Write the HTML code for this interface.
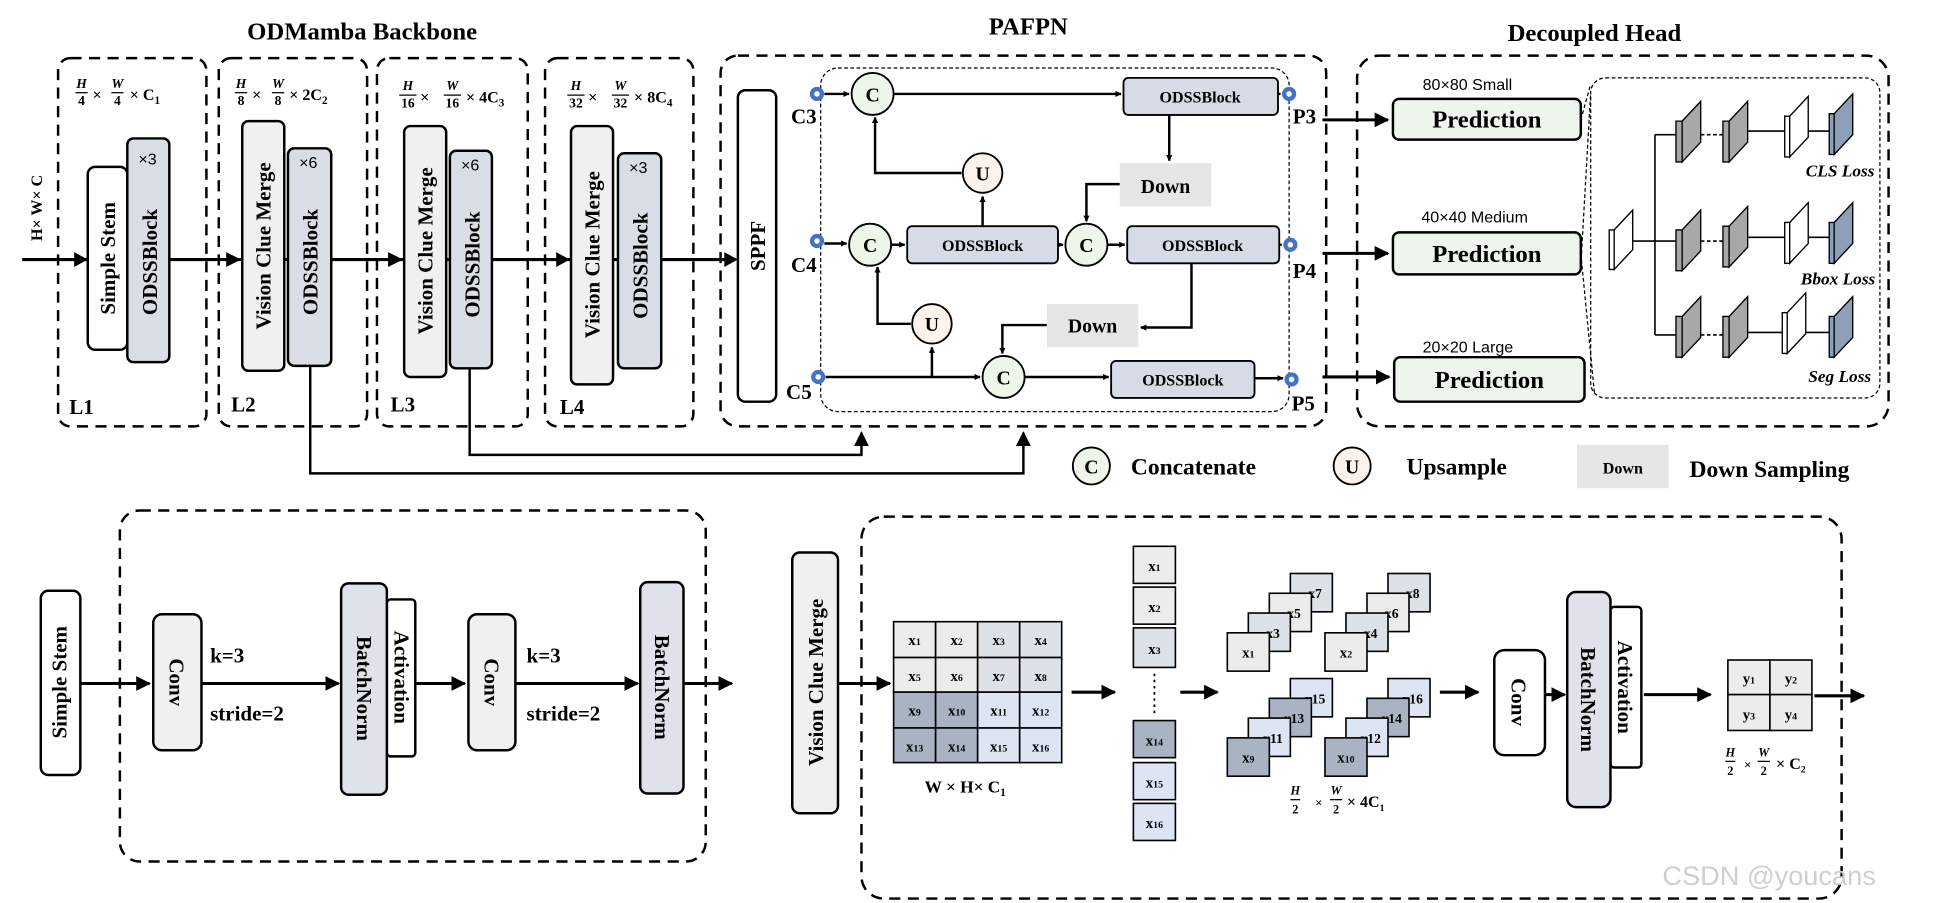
<!DOCTYPE html>
<html><head><meta charset="utf-8"><style>
html,body{margin:0;padding:0;background:#fff;}
svg{display:block;}
text{font-family:"Liberation Serif",serif;font-weight:bold;fill:#000;}
.s{font-family:"Liberation Sans",sans-serif;font-weight:normal;}
</style></head><body>
<svg width="1938" height="903" viewBox="0 0 1568 730.6" preserveAspectRatio="none" xmlns="http://www.w3.org/2000/svg">
<defs>
<marker id="a" viewBox="0 0 10 10" refX="9" refY="5" markerWidth="5" markerHeight="5" orient="auto-start-reverse" markerUnits="userSpaceOnUse"><path d="M0,0L10,5L0,10z"/></marker>
<marker id="A" viewBox="0 0 10 10" refX="9" refY="5" markerWidth="12" markerHeight="12" orient="auto" markerUnits="userSpaceOnUse"><path d="M0,0L10,5L0,10z"/></marker>
</defs>
<g fill="none" stroke="#000" stroke-width="2" stroke-dasharray="9,6">
<rect x="47" y="47" width="120" height="298" rx="10"/>
<rect x="177" y="47" width="120" height="298" rx="10"/>
<rect x="305" y="47" width="122" height="298" rx="10"/>
<rect x="441" y="47" width="120" height="298" rx="10"/>
<rect x="583" y="45" width="490" height="300" rx="14"/>
<rect x="1098" y="45" width="430" height="300" rx="18"/>
<rect x="97" y="413" width="474" height="284" rx="16"/>
<rect x="697" y="418" width="793" height="309" rx="18"/>
</g>
<g fill="none" stroke="#000" stroke-width="1" stroke-dasharray="3,2">
<rect x="664" y="55" width="379" height="278" rx="14"/>
<rect x="1287" y="63" width="234" height="259" rx="12"/>
<path d="M1279,97 L1287,68 M1279,215 L1287,75 M1279,205 L1290,318"/>
</g>
<text x="293" y="32" font-size="20" text-anchor="middle">ODMamba Backbone</text>
<text x="832" y="28" font-size="20" text-anchor="middle">PAFPN</text>
<text x="1290" y="33" font-size="20" text-anchor="middle">Decoupled Head</text>
<line x1="18" y1="210" x2="590" y2="210" stroke="#000" stroke-width="2.5"/>
<g fill="#000"><path d="M60,204L71,210L60,216z"/><path d="M183,204L195,210L183,216z"/><path d="M314,204L326,210L314,216z"/><path d="M450,204L461,210L450,216z"/><path d="M586,204L597,210L586,216z"/></g>
<text transform="translate(34,195) rotate(-90)" font-size="13">H× W× C</text>
<g stroke="#000" stroke-width="2">
<rect x="71" y="135" width="32" height="148" rx="6" fill="#fff"/>
<rect x="103" y="112" width="34" height="181" rx="5" fill="#d9dde6"/>
<rect x="196" y="98" width="34" height="202" rx="5" fill="#f0f0f0"/>
<rect x="233" y="120" width="35" height="176" rx="5" fill="#d9dde6"/>
<rect x="327" y="102" width="34" height="203" rx="5" fill="#f0f0f0"/>
<rect x="364" y="122" width="34" height="176" rx="5" fill="#d9dde6"/>
<rect x="462" y="102" width="34" height="209" rx="5" fill="#f0f0f0"/>
<rect x="500" y="124" width="35" height="174" rx="5" fill="#d9dde6"/>
<rect x="597" y="73" width="31" height="252" rx="6" fill="#fff"/>
</g>
<g font-size="17">
<text transform="translate(93,209) rotate(-90)" text-anchor="middle">Simple Stem</text>
<text transform="translate(127,212) rotate(-90)" text-anchor="middle">ODSSBlock</text>
<text transform="translate(219,199) rotate(-90)" text-anchor="middle">Vision Clue Merge</text>
<text transform="translate(257,212) rotate(-90)" text-anchor="middle">ODSSBlock</text>
<text transform="translate(350,203) rotate(-90)" text-anchor="middle">Vision Clue Merge</text>
<text transform="translate(388,214) rotate(-90)" text-anchor="middle">ODSSBlock</text>
<text transform="translate(485,206) rotate(-90)" text-anchor="middle">Vision Clue Merge</text>
<text transform="translate(524,215) rotate(-90)" text-anchor="middle">ODSSBlock</text>
<text transform="translate(619,199) rotate(-90)" text-anchor="middle">SPPF</text>
</g>
<g class="s" font-size="13"><text class="s" x="112" y="133">×3</text><text class="s" x="242" y="136">×6</text><text class="s" x="373" y="138">×6</text><text class="s" x="509" y="140">×3</text></g>
<g font-size="17"><text x="56" y="335">L1</text><text x="187" y="333">L2</text><text x="316" y="333">L3</text><text x="453" y="335">L4</text></g>
<g font-size="11" text-anchor="middle" font-style="italic">
<text x="66" y="71">H</text><text x="66" y="85" font-style="normal">4</text><line x1="61" y1="75" x2="71" y2="75" stroke="#000"/>
<text x="95" y="71">W</text><text x="95" y="85" font-style="normal">4</text><line x1="90" y1="75" x2="100" y2="75" stroke="#000"/>
<text x="195" y="71">H</text><text x="195" y="85" font-style="normal">8</text><line x1="190" y1="75" x2="200" y2="75" stroke="#000"/>
<text x="225" y="71">W</text><text x="225" y="85" font-style="normal">8</text><line x1="220" y1="75" x2="230" y2="75" stroke="#000"/>
<text x="330" y="73">H</text><text x="330" y="87" font-style="normal">16</text><line x1="323" y1="77" x2="337" y2="77" stroke="#000"/>
<text x="366" y="73">W</text><text x="366" y="87" font-style="normal">16</text><line x1="359" y1="77" x2="373" y2="77" stroke="#000"/>
<text x="466" y="73">H</text><text x="466" y="87" font-style="normal">32</text><line x1="459" y1="77" x2="473" y2="77" stroke="#000"/>
<text x="502" y="73">W</text><text x="502" y="87" font-style="normal">32</text><line x1="495" y1="77" x2="509" y2="77" stroke="#000"/>
</g>
<g font-size="13"><text x="75" y="81">×</text><text x="105" y="81">× C<tspan font-size="9" dy="3">1</tspan></text>
<text x="204" y="81">×</text><text x="234" y="81">× 2C<tspan font-size="9" dy="3">2</tspan></text>
<text x="340" y="83">×</text><text x="377" y="83">× 4C<tspan font-size="9" dy="3">3</tspan></text>
<text x="476" y="83">×</text><text x="513" y="83">× 8C<tspan font-size="9" dy="3">4</tspan></text></g>
<g fill="none" stroke="#000" stroke-width="2">
<path d="M251,296 V383 H828 V350" marker-end="url(#A)"/>
<path d="M380,298 V368 H697 V350" marker-end="url(#A)"/>
</g>
<g fill="none" stroke="#000" stroke-width="2">
<path d="M667,76 H687" marker-end="url(#a)"/>
<path d="M723,76 H907" marker-end="url(#a)"/>
<path d="M1034,76 H1036" marker-end="url(#a)"/>
<path d="M667,197 H685" marker-end="url(#a)"/>
<path d="M721,198 H732" marker-end="url(#a)"/>
<path d="M856,198 H860" marker-end="url(#a)"/>
<path d="M896,198 H910" marker-end="url(#a)"/>
<path d="M1035,198 H1037" marker-end="url(#a)"/>
<path d="M668,305 H793" marker-end="url(#a)"/>
<path d="M829,305 H897" marker-end="url(#a)"/>
<path d="M1015,306 H1038" marker-end="url(#a)"/>
<path d="M795,183 V159" marker-end="url(#a)"/>
<path d="M778,140 H708 V95" marker-end="url(#a)"/>
<path d="M754,305 V281" marker-end="url(#a)"/>
<path d="M737,262 H710 V216" marker-end="url(#a)"/>
<path d="M946,93 V130" marker-end="url(#a)"/>
<path d="M906,149 H879 V179" marker-end="url(#a)"/>
<path d="M964,213 V265 H923" marker-end="url(#a)"/>
<path d="M847,263 H811 V286" marker-end="url(#a)"/>
<path d="M1070,97 H1123" marker-end="url(#A)" stroke-width="2.5"/>
<path d="M1070,205 H1123" marker-end="url(#A)" stroke-width="2.5"/>
<path d="M1070,305 H1124" marker-end="url(#A)" stroke-width="2.5"/>
</g>
<g stroke="#000" stroke-width="1.5">
<rect x="909" y="63" width="125" height="30" rx="4" fill="#d6dbe5"/>
<rect x="734" y="183" width="122" height="30" rx="4" fill="#d6dbe5"/>
<rect x="912" y="183" width="123" height="30" rx="4" fill="#d6dbe5"/>
<rect x="899" y="292" width="116" height="30" rx="4" fill="#d6dbe5"/>
<circle cx="706" cy="76" r="17" fill="#eef6ea"/><circle cx="704" cy="198" r="17" fill="#eef6ea"/>
<circle cx="879" cy="198" r="17" fill="#eef6ea"/><circle cx="812" cy="305" r="17" fill="#eef6ea"/>
<circle cx="795" cy="140" r="16" fill="#fdf3ec"/><circle cx="754" cy="262" r="16" fill="#fdf3ec"/>
<circle cx="883" cy="377" r="15" fill="#eef6ea"/><circle cx="1094" cy="377" r="15" fill="#fdf3ec"/>
</g>
<g fill="#e6e6e6"><rect x="906" y="132" width="74" height="35"/><rect x="847" y="246" width="74" height="35"/><rect x="1276" y="360" width="74" height="35"/></g>
<g font-size="13" text-anchor="middle"><text x="971" y="83">ODSSBlock</text><text x="795" y="203">ODSSBlock</text><text x="973" y="203">ODSSBlock</text><text x="957" y="312">ODSSBlock</text></g>
<g font-size="16" text-anchor="middle"><text x="943" y="156">Down</text><text x="884" y="269">Down</text>
<text x="706" y="82">C</text><text x="704" y="204">C</text><text x="879" y="204">C</text><text x="812" y="311">C</text>
<text x="795" y="146">U</text><text x="754" y="268">U</text><text x="883" y="383">C</text><text x="1094" y="383">U</text></g>
<text x="1313" y="383" font-size="13" text-anchor="middle">Down</text>
<g font-size="19"><text x="915" y="384">Concatenate</text><text x="1138" y="384">Upsample</text><text x="1367" y="386">Down Sampling</text></g>
<g fill="#fff" stroke="#4472c4" stroke-width="3.5">
<circle cx="661" cy="76" r="4"/><circle cx="661" cy="195" r="4"/><circle cx="662" cy="305" r="4"/>
<circle cx="1043" cy="76" r="4"/><circle cx="1044" cy="198" r="4"/><circle cx="1045" cy="307" r="4"/></g>
<g font-size="17"><text x="640" y="100">C3</text><text x="640" y="220">C4</text><text x="636" y="323">C5</text>
<text x="1046" y="100">P3</text><text x="1046" y="225">P4</text><text x="1045" y="332">P5</text></g>
<g stroke="#000" stroke-width="2" fill="#eef5ec">
<rect x="1127" y="80" width="152" height="33" rx="5"/><rect x="1127" y="188" width="152" height="34" rx="5"/><rect x="1128" y="289" width="154" height="36" rx="5"/></g>
<g font-size="20" text-anchor="middle"><text x="1203" y="103">Prediction</text><text x="1203" y="212">Prediction</text><text x="1205" y="314">Prediction</text></g>
<g class="s" font-size="13"><text class="s" x="1151" y="73">80×80   Small</text><text class="s" x="1150" y="180">40×40  Medium</text><text class="s" x="1151" y="285">20×20   Large</text></g>
<g fill="none" stroke="#000" stroke-width="1.3">
<path d="M1316,195 H1339 M1339,109 V271 M1339,109 H1356 M1339,195 H1356 M1339,271 H1356"/>
<path d="M1376,109 H1394 M1376,195 H1394 M1376,271 H1394" stroke-dasharray="3,2"/>
<path d="M1414,106 H1444 M1414,192 H1444 M1414,269 H1442 M1458,106 H1480 M1458,192 H1480 M1456,269 H1480"/>
</g>
<g stroke="#000" stroke-width="1.1">
<path d="M1302,186 h4 v32 h-4z M1306,186 l15,-16 v32 l-15,16z" fill="#fff"/>
<g fill="#a8a8a8">
<path d="M1356,98 h5 v33 h-5z M1361,98 l15,-16 v33 l-15,16z"/><path d="M1394,98 h5 v33 h-5z M1399,98 l15,-16 v33 l-15,16z"/>
<path d="M1356,186 h5 v33 h-5z M1361,186 l15,-16 v33 l-15,16z"/><path d="M1394,183 h5 v33 h-5z M1399,183 l15,-16 v33 l-15,16z"/>
<path d="M1356,256 h5 v33 h-5z M1361,256 l15,-16 v33 l-15,16z"/><path d="M1394,256 h5 v33 h-5z M1399,256 l15,-16 v33 l-15,16z"/>
</g>
<g fill="#fff"><path d="M1444,94 h4 v33 h-4z M1448,94 l15,-16 v33 l-15,16z"/><path d="M1444,180 h4 v33 h-4z M1448,180 l15,-16 v33 l-15,16z"/><path d="M1442,253 h4 v33 h-4z M1446,253 l15,-16 v33 l-15,16z"/></g>
<g fill="#8e9fba"><path d="M1480,92 h4 v33 h-4z M1484,92 l15,-16 v33 l-15,16z"/><path d="M1480,180 h4 v33 h-4z M1484,180 l15,-16 v33 l-15,16z"/><path d="M1480,256 h4 v33 h-4z M1484,256 l15,-16 v33 l-15,16z"/></g>
</g>
<g font-size="14" font-style="italic"><text x="1461" y="143">CLS Loss</text><text x="1457" y="230">Bbox Loss</text><text x="1463" y="309">Seg Loss</text></g>
<g stroke="#000" stroke-width="2">
<rect x="33" y="478" width="32" height="149" rx="6" fill="#fff"/>
<rect x="124" y="497" width="39" height="110" rx="7" fill="#f0f0f0"/>
<rect x="313" y="485" width="23" height="127" rx="3" fill="#fff"/>
<rect x="276" y="472" width="37" height="171" rx="6" fill="#dfe2ea"/>
<rect x="379" y="497" width="38" height="110" rx="7" fill="#f0f0f0"/>
<rect x="518" y="471" width="35" height="171" rx="6" fill="#dfe2ea"/>
<rect x="641" y="447" width="37" height="211" rx="6" fill="#f0f0f0"/>
</g>
<g fill="none" stroke="#000" stroke-width="2.5">
<path d="M65,553 H121" marker-end="url(#A)"/><path d="M163,553 H274" marker-end="url(#A)"/>
<path d="M336,553 H376" marker-end="url(#A)"/><path d="M417,553 H516" marker-end="url(#A)"/>
<path d="M553,553 H592" marker-end="url(#A)"/><path d="M678,553 H720" marker-end="url(#A)"/>
<path d="M867,560 H902" marker-end="url(#A)"/><path d="M955,560 H985" marker-end="url(#A)"/>
<path d="M1165,560 H1196" marker-end="url(#A)"/><path d="M1250,562 H1266" marker-end="url(#A)"/>
<path d="M1330,562 H1384" marker-end="url(#A)"/><path d="M1468,563 H1508" marker-end="url(#A)"/>
</g>
<g font-size="17">
<text transform="translate(54,552) rotate(-90)" text-anchor="middle">Simple Stem</text>
<text transform="translate(137,552) rotate(90)" text-anchor="middle">Conv</text>
<text transform="translate(289,557) rotate(90)" text-anchor="middle">BatchNorm</text>
<text transform="translate(319,548) rotate(90)" text-anchor="middle">Activation</text>
<text transform="translate(392,552) rotate(90)" text-anchor="middle">Conv</text>
<text transform="translate(530,556) rotate(90)" text-anchor="middle">BatchNorm</text>
<text transform="translate(666,552) rotate(-90)" text-anchor="middle">Vision Clue Merge</text>
<text x="170" y="536">k=3</text><text x="170" y="583">stride=2</text>
<text x="426" y="536">k=3</text><text x="426" y="583">stride=2</text>
</g>
<g stroke="#000" stroke-width="1.3" font-size="13">
<rect x="723" y="503" width="34" height="29" fill="#ececec"/><rect x="757" y="503" width="34" height="29" fill="#ececec"/><rect x="791" y="503" width="34" height="29" fill="#dde1e8"/><rect x="825" y="503" width="34" height="29" fill="#dde1e8"/>
<rect x="723" y="532" width="34" height="28" fill="#ececec"/><rect x="757" y="532" width="34" height="28" fill="#ececec"/><rect x="791" y="532" width="34" height="28" fill="#dde1e8"/><rect x="825" y="532" width="34" height="28" fill="#dde1e8"/>
<rect x="723" y="560" width="34" height="29" fill="#aab3c4"/><rect x="757" y="560" width="34" height="29" fill="#aab3c4"/><rect x="791" y="560" width="34" height="29" fill="#dde5f3"/><rect x="825" y="560" width="34" height="29" fill="#dde5f3"/>
<rect x="723" y="589" width="34" height="28" fill="#aab3c4"/><rect x="757" y="589" width="34" height="28" fill="#aab3c4"/><rect x="791" y="589" width="34" height="28" fill="#dde5f3"/><rect x="825" y="589" width="34" height="28" fill="#dde5f3"/>
<rect x="917" y="442" width="34" height="30" fill="#ececec"/><rect x="917" y="475" width="34" height="30" fill="#ececec"/><rect x="917" y="508" width="34" height="32" fill="#dde1e8"/>
<rect x="917" y="583" width="34" height="30" fill="#aab3c4"/><rect x="917" y="617" width="34" height="30" fill="#dde5f3"/><rect x="917" y="650" width="34" height="30" fill="#dde5f3"/>
<rect x="1398" y="534" width="34" height="28" fill="#ececec"/><rect x="1432" y="534" width="34" height="28" fill="#ececec"/><rect x="1398" y="562" width="34" height="29" fill="#ececec"/><rect x="1432" y="562" width="34" height="29" fill="#ececec"/>
</g>
<line x1="934" y1="545" x2="934" y2="580" stroke="#000" stroke-width="1.5" stroke-dasharray="2,3"/>
<g font-size="12" text-anchor="middle">
<text x="740" y="522">x<tspan font-size="8">1</tspan></text><text x="774" y="522">x<tspan font-size="8">2</tspan></text><text x="808" y="522">x<tspan font-size="8">3</tspan></text><text x="842" y="522">x<tspan font-size="8">4</tspan></text>
<text x="740" y="551">x<tspan font-size="8">5</tspan></text><text x="774" y="551">x<tspan font-size="8">6</tspan></text><text x="808" y="551">x<tspan font-size="8">7</tspan></text><text x="842" y="551">x<tspan font-size="8">8</tspan></text>
<text x="740" y="579">x<tspan font-size="8">9</tspan></text><text x="774" y="579">x<tspan font-size="8">10</tspan></text><text x="808" y="579">x<tspan font-size="8">11</tspan></text><text x="842" y="579">x<tspan font-size="8">12</tspan></text>
<text x="740" y="608">x<tspan font-size="8">13</tspan></text><text x="774" y="608">x<tspan font-size="8">14</tspan></text><text x="808" y="608">x<tspan font-size="8">15</tspan></text><text x="842" y="608">x<tspan font-size="8">16</tspan></text>
<text x="934" y="462">x<tspan font-size="8">1</tspan></text><text x="934" y="495">x<tspan font-size="8">2</tspan></text><text x="934" y="529">x<tspan font-size="8">3</tspan></text>
<text x="934" y="603">x<tspan font-size="8">14</tspan></text><text x="934" y="637">x<tspan font-size="8">15</tspan></text><text x="934" y="670">x<tspan font-size="8">16</tspan></text>
<text x="1415" y="553">y<tspan font-size="8">1</tspan></text><text x="1449" y="553">y<tspan font-size="8">2</tspan></text><text x="1415" y="582">y<tspan font-size="8">3</tspan></text><text x="1449" y="582">y<tspan font-size="8">4</tspan></text>
</g>
<g stroke="#000" stroke-width="1.3" font-size="11" text-anchor="middle">
<rect x="1044" y="464" width="34" height="31" fill="#dde1e8"/><text x="1064" y="484" stroke="none">x7</text>
<rect x="1027" y="480" width="34" height="31" fill="#ececec"/><text x="1047" y="500" stroke="none">x5</text>
<rect x="1010" y="496" width="34" height="31" fill="#dde1e8"/><text x="1030" y="516" stroke="none">x3</text>
<rect x="993" y="512" width="34" height="31" fill="#ececec"/><text x="1010" y="532" stroke="none" font-size="12">x<tspan font-size="8">1</tspan></text>
<rect x="1123" y="464" width="34" height="31" fill="#dde1e8"/><text x="1143" y="484" stroke="none">x8</text>
<rect x="1106" y="480" width="34" height="31" fill="#ececec"/><text x="1126" y="500" stroke="none">x6</text>
<rect x="1089" y="496" width="34" height="31" fill="#dde1e8"/><text x="1109" y="516" stroke="none">x4</text>
<rect x="1072" y="512" width="34" height="31" fill="#ececec"/><text x="1089" y="532" stroke="none" font-size="12">x<tspan font-size="8">2</tspan></text>
<rect x="1044" y="549" width="34" height="31" fill="#dde5f3"/><text x="1064" y="569" stroke="none">x15</text>
<rect x="1027" y="565" width="34" height="31" fill="#aab3c4"/><text x="1047" y="585" stroke="none">x13</text>
<rect x="1010" y="581" width="34" height="31" fill="#dde5f3"/><text x="1030" y="601" stroke="none">x11</text>
<rect x="993" y="597" width="34" height="31" fill="#aab3c4"/><text x="1010" y="617" stroke="none" font-size="12">x<tspan font-size="8">9</tspan></text>
<rect x="1123" y="549" width="34" height="31" fill="#dde5f3"/><text x="1143" y="569" stroke="none">x16</text>
<rect x="1106" y="565" width="34" height="31" fill="#aab3c4"/><text x="1126" y="585" stroke="none">x14</text>
<rect x="1089" y="581" width="34" height="31" fill="#dde5f3"/><text x="1109" y="601" stroke="none">x12</text>
<rect x="1072" y="597" width="34" height="31" fill="#aab3c4"/><text x="1089" y="617" stroke="none" font-size="12">x<tspan font-size="8">10</tspan></text>
</g>
<text x="781" y="641" font-size="14" text-anchor="middle" font-weight="normal">W × H× C<tspan font-size="9" dy="3">1</tspan></text>
<g font-size="10" text-anchor="middle" font-weight="normal">
<text x="1048" y="643" font-style="italic">H</text><line x1="1044" y1="647" x2="1052" y2="647" stroke="#000"/><text x="1048" y="658">2</text>
<text x="1067" y="653">×</text>
<text x="1081" y="643" font-style="italic">W</text><line x1="1076" y1="647" x2="1086" y2="647" stroke="#000"/><text x="1081" y="658">2</text>
<text x="1105" y="653" font-size="13">× 4C<tspan font-size="8" dy="3">1</tspan></text>
<text x="1400" y="612" font-style="italic">H</text><line x1="1396" y1="616" x2="1404" y2="616" stroke="#000"/><text x="1400" y="627">2</text>
<text x="1414" y="622">×</text>
<text x="1427" y="612" font-style="italic">W</text><line x1="1422" y1="616" x2="1432" y2="616" stroke="#000"/><text x="1427" y="627">2</text>
<text x="1449" y="622" font-size="13">× C<tspan font-size="8" dy="3">2</tspan></text>
</g>
<g stroke="#000" stroke-width="2">
<rect x="1209" y="526" width="41" height="85" rx="8" fill="#fff"/>
<rect x="1303" y="491" width="25" height="130" rx="3" fill="#fff"/>
<rect x="1268" y="479" width="35" height="174" rx="7" fill="#dfe2ea"/>
</g>
<g font-size="17">
<text transform="translate(1223,568) rotate(90)" text-anchor="middle">Conv</text>
<text transform="translate(1279,566) rotate(90)" text-anchor="middle">BatchNorm</text>
<text transform="translate(1309,556) rotate(90)" text-anchor="middle">Activation</text>
</g>
<text class="s" x="1345" y="716" font-size="22" style="fill:#cfcfcf">CSDN @youcans</text>
</svg>
</body></html>
